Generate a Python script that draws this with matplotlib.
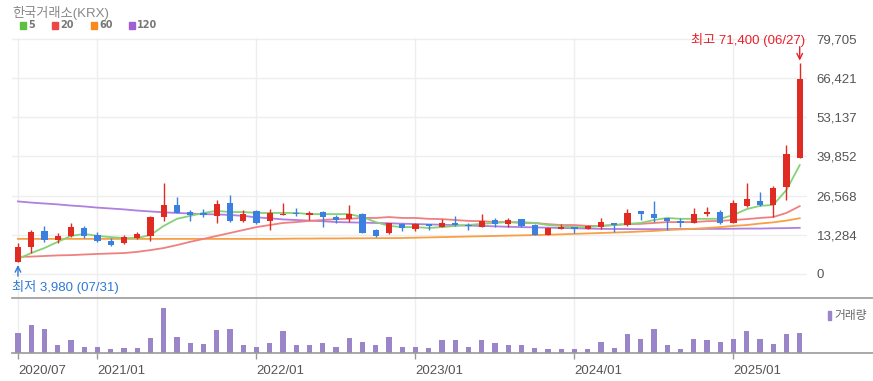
import numpy as np
import matplotlib.pyplot as plt
from matplotlib.patches import Rectangle
from matplotlib.lines import Line2D

plt.rcParams['font.family'] = ['Liberation Sans', 'Noto Sans CJK KR', 'DejaVu Sans']

# monthly candles 2020/07 .. 2025/06
months = ['2020/07', '2020/08', '2020/09', '2020/10', '2020/11', '2020/12',
          '2021/01', '2021/02', '2021/03', '2021/04', '2021/05', '2021/06',
          '2021/07', '2021/08', '2021/09', '2021/10', '2021/11', '2021/12',
          '2022/01', '2022/02', '2022/03', '2022/04', '2022/05', '2022/06',
          '2022/07', '2022/08', '2022/09', '2022/10', '2022/11', '2022/12',
          '2023/01', '2023/02', '2023/03', '2023/04', '2023/05', '2023/06',
          '2023/07', '2023/08', '2023/09', '2023/10', '2023/11', '2023/12',
          '2024/01', '2024/02', '2024/03', '2024/04', '2024/05', '2024/06',
          '2024/07', '2024/08', '2024/09', '2024/10', '2024/11', '2024/12',
          '2025/01', '2025/02', '2025/03', '2025/04', '2025/05', '2025/06']

opens = [4000, 9150, 14600, 11500, 12900, 15600, 13200, 11200, 10500, 12200,
         12900, 19300, 23400, 21000, 20700, 19600, 24100, 18000, 21400, 18000,
         20000, 20700, 20000, 21000, 19300, 18600, 20300, 14900, 13900, 16900,
         15300, 16900, 15900, 17300, 16600, 15900, 18300, 16900, 18600, 16600,
         13200, 15300, 15900, 15300, 15900, 17300, 16600, 21400, 20300, 19000,
         18000, 17300, 20300, 21000, 17300, 23100, 24700, 23400, 29500, 39300]
closes = [9150, 14240, 11500, 12900, 15900, 12900, 11200, 9800, 12500, 13600,
          19300, 23400, 20700, 20000, 20000, 23700, 18000, 20300, 17300, 20700,
          20300, 20300, 20700, 19300, 18300, 20300, 13900, 12900, 17300, 15600,
          16900, 16300, 17300, 16600, 16300, 18000, 16900, 18300, 16300, 13200,
          15600, 15900, 15300, 16300, 17600, 16600, 20700, 20300, 19000, 18000,
          17300, 20300, 21000, 17300, 24100, 25400, 23400, 29100, 40700, 66100]
highs = [10500, 14900, 16300, 13900, 17300, 16300, 14200, 12200, 13200, 14200,
         19700, 30800, 26100, 21700, 22000, 25100, 26800, 21700, 21700, 22000,
         24100, 22400, 21400, 21400, 20000, 23400, 20700, 15300, 17300, 17300,
         17300, 16900, 18600, 19700, 17300, 20300, 19000, 19000, 18600, 16900,
         15900, 16900, 15900, 16600, 19000, 17300, 22000, 21400, 24700, 19000,
         19000, 22400, 22700, 21700, 25100, 30800, 27800, 29800, 43700, 71400]
lows = [3980, 7100, 10800, 10500, 12500, 12200, 10800, 9500, 10200, 11900,
        11200, 18000, 20700, 18000, 19300, 17300, 17600, 17600, 17000, 14900,
        20000, 19700, 18300, 15900, 17300, 17600, 13900, 12500, 13600, 14600,
        14600, 14900, 15900, 16300, 14900, 15900, 15900, 15900, 15900, 13200,
        13200, 15300, 13900, 15300, 15300, 14200, 16300, 18300, 17600, 14900,
        15900, 17300, 19700, 17000, 17300, 22700, 23100, 19300, 25100, 39300]

ma5 = [5100, 7100, 8800, 10900, 12900, 13600, 12900, 12500, 12200, 12200,
       13200, 16300, 18700, 19700, 20700, 21400, 21000, 21000, 20700, 20700,
       20700, 20700, 20300, 20300, 20300, 20300, 19300, 17600, 16300, 15900,
       15900, 15600, 15900, 16300, 16600, 17000, 17300, 17600, 17600, 17300,
       16600, 16300, 15900, 15900, 16300, 16600, 17000, 17300, 18300, 19000,
       18700, 18700, 18700, 18700, 20000, 22000, 23100, 23400, 28500, 36900]
ma20 = [5800, 5900, 6100, 6300, 6400, 6600, 6800, 6950, 7100, 7500,
        8100, 8800, 9800, 10900, 11900, 12900, 13900, 14900, 15900, 16600,
        17300, 17600, 18000, 18300, 18600, 18700, 19000, 19000, 19300, 19000,
        19000, 18700, 18600, 18300, 18000, 17900, 17600, 17600, 17300, 17300,
        16900, 16600, 16600, 16300, 16300, 16600, 16900, 17000, 17300, 17600,
        17600, 17600, 17900, 18000, 18300, 18600, 19000, 19300, 20700, 23000]
ma60 = [11900, 11900, 11900, 11900, 11900, 11900, 11900, 11900, 11900, 11900,
        11900, 11900, 11900, 11900, 11900, 11900, 11900, 11900, 11900, 11900,
        11950, 12000, 12000, 12050, 12050, 12100, 12100, 12150, 12150, 12200,
        12300, 12400, 12500, 12600, 12700, 12800, 12900, 13000, 13100, 13200,
        13300, 13450, 13600, 13750, 13900, 14050, 14200, 14400, 14600, 14900,
        15100, 15300, 15600, 15900, 16300, 16600, 17100, 17500, 18100, 18900]
ma120 = [24600, 24200, 23900, 23600, 23200, 22900, 22500, 22200, 21900, 21500,
         21200, 20900, 20700, 20500, 20300, 20200, 20000, 19700, 19200, 18900,
         18500, 18300, 18100, 17900, 17600, 17500, 17400, 17300, 17200, 17050,
         16950, 16800, 16700, 16550, 16400, 16300, 16150, 16000, 15900, 15800,
         15700, 15600, 15500, 15400, 15300, 15250, 15250, 15200, 15200, 15200,
         15250, 15250, 15300, 15300, 15350, 15400, 15400, 15500, 15550, 15650]

volume_k = [60, 83, 71, 23, 38, 18, 18, 11, 15, 15,
            45, 135, 48, 30, 26, 68, 71, 23, 18, 30,
            65, 23, 23, 30, 18, 45, 33, 23, 48, 18,
            18, 15, 38, 38, 18, 38, 30, 23, 23, 15,
            11, 11, 11, 11, 33, 15, 56, 41, 71, 23,
            11, 41, 38, 33, 41, 65, 41, 26, 56, 60]

yticks = [0, 13284, 26568, 39852, 53137, 66421, 79705]
xtick_labels = ['2020/07', '2021/01', '2022/01', '2023/01', '2024/01', '2025/01']
high_date = '06/27'
low_date = '07/31'

UP = '#e02b22'
DOWN = '#3b7fe0'
GRID = '#eeeeee'
TXT = '#555555'

W, H = 873, 381
fig = plt.figure(figsize=(W / 100, H / 100), dpi=100)

def px_axes(l, t, r, b):
    return fig.add_axes([l / W, 1 - b / H, (r - l) / W, (b - t) / H])

ax = px_axes(12, 38, 807, 297)
axv = px_axes(12, 298, 807, 353)

x = np.arange(len(months))
o = np.array(opens); c = np.array(closes)
hi = np.array(highs); lo = np.array(lows)
cols = [UP if cc >= oo else DOWN for oo, cc in zip(o, c)]

# moving averages
ax.plot(x, ma120, color='#b07fe0', lw=1.3, zorder=2)
ax.plot(x, ma60, color='#f7a045', lw=1.3, zorder=2)
ax.plot(x, ma20, color='#f08080', lw=1.3, zorder=2)
ax.plot(x, ma5, color='#86d276', lw=1.3, zorder=2)

# candles
ax.vlines(x, lo, hi, colors=cols, lw=1, zorder=3)
body = np.maximum(np.abs(c - o), 350)
ax.bar(x, body, bottom=np.minimum(o, c), width=0.48, color=cols, zorder=4)

ax.set_xlim(-0.45, len(months) - 0.45)
ax.set_ylim(-7800, 80000)
tick_idx = [months.index(m) for m in xtick_labels]
ax.set_xticks(tick_idx)
ax.set_xticklabels([])
ax.set_yticks(yticks)
ax.set_yticklabels([f'{v:,}' for v in yticks])
ax.yaxis.tick_right()
ax.tick_params(axis='y', length=0, pad=7, labelsize=9.5, labelcolor=TXT)
ax.tick_params(axis='x', length=0)
ax.grid(True, color=GRID, lw=1)
ax.set_axisbelow(True)
for s in ax.spines.values():
    s.set_visible(False)

# high / low markers
imax = int(np.argmax(hi))
imin = int(np.argmin(lo))
ax.annotate('', xy=(imax, hi[imax]), xytext=(0, 12), textcoords='offset points',
            arrowprops=dict(arrowstyle='->', color='#e8202a', lw=1, shrinkA=0, shrinkB=2))
ax.annotate(f'최고 {hi[imax]:,} ({high_date})', xy=(imax, hi[imax]), xytext=(4, 17),
            textcoords='offset points', ha='right', va='center', color='#e8202a', fontsize=9.5)
ax.annotate('', xy=(imin, lo[imin]), xytext=(0, -10), textcoords='offset points',
            arrowprops=dict(arrowstyle='->', color='#2f78d8', lw=1, shrinkA=0, shrinkB=2))
ax.annotate(f'최저 {lo[imin]:,} ({low_date})', xy=(imin, lo[imin]), xytext=(-4.5, -18),
            textcoords='offset points', ha='left', va='center', color='#2f78d8', fontsize=9.5)

# volume
axv.bar(x, volume_k, width=0.4, color='#9b85c9', zorder=3)
axv.set_xlim(ax.get_xlim())
axv.set_ylim(0, 165)
axv.set_yticks([])
axv.set_xticks(tick_idx)
axv.set_xticklabels(xtick_labels, ha='left')
axv.tick_params(axis='x', length=4, width=1, color='#999999', pad=5,
                labelsize=9.5, labelcolor=TXT)
axv.grid(True, axis='x', color=GRID, lw=1)
axv.set_axisbelow(True)
for s in axv.spines.values():
    s.set_visible(False)

# separator lines across
fig.add_artist(Line2D([12 / W, 1], [1 - 298 / H] * 2, color='#9a9a9a', lw=1.2))
fig.add_artist(Line2D([12 / W, 1], [1 - 353 / H] * 2, color='#9a9a9a', lw=1.2))

# title and MA legend
fig.text(12 / W, 1 - 13 / H, '한국거래소(KRX)', color='#888888', fontsize=9.5, va='center')
legend = [('5', '#5ec043', 20), ('20', '#ee4646', 52), ('60', '#f68a1e', 91), ('120', '#a060d4', 129)]
for lab, col, lx in legend:
    fig.add_artist(Rectangle((lx / W, 1 - 29 / H), 6 / W, 7 / H, color=col, transform=fig.transFigure))
    fig.text((lx + 8) / W, 1 - 25.5 / H, lab, color='#777777', fontsize=7,
             fontweight='bold', va='center', family='DejaVu Sans')

# volume legend
fig.add_artist(Rectangle((828 / W, 1 - 320 / H), 3 / W, 9 / H, color='#9b85c9', transform=fig.transFigure))
fig.text(834 / W, 1 - 315.5 / H, '거래량', color='#666666', fontsize=8.5, va='center')

fig.savefig('out.png', dpi=100)
